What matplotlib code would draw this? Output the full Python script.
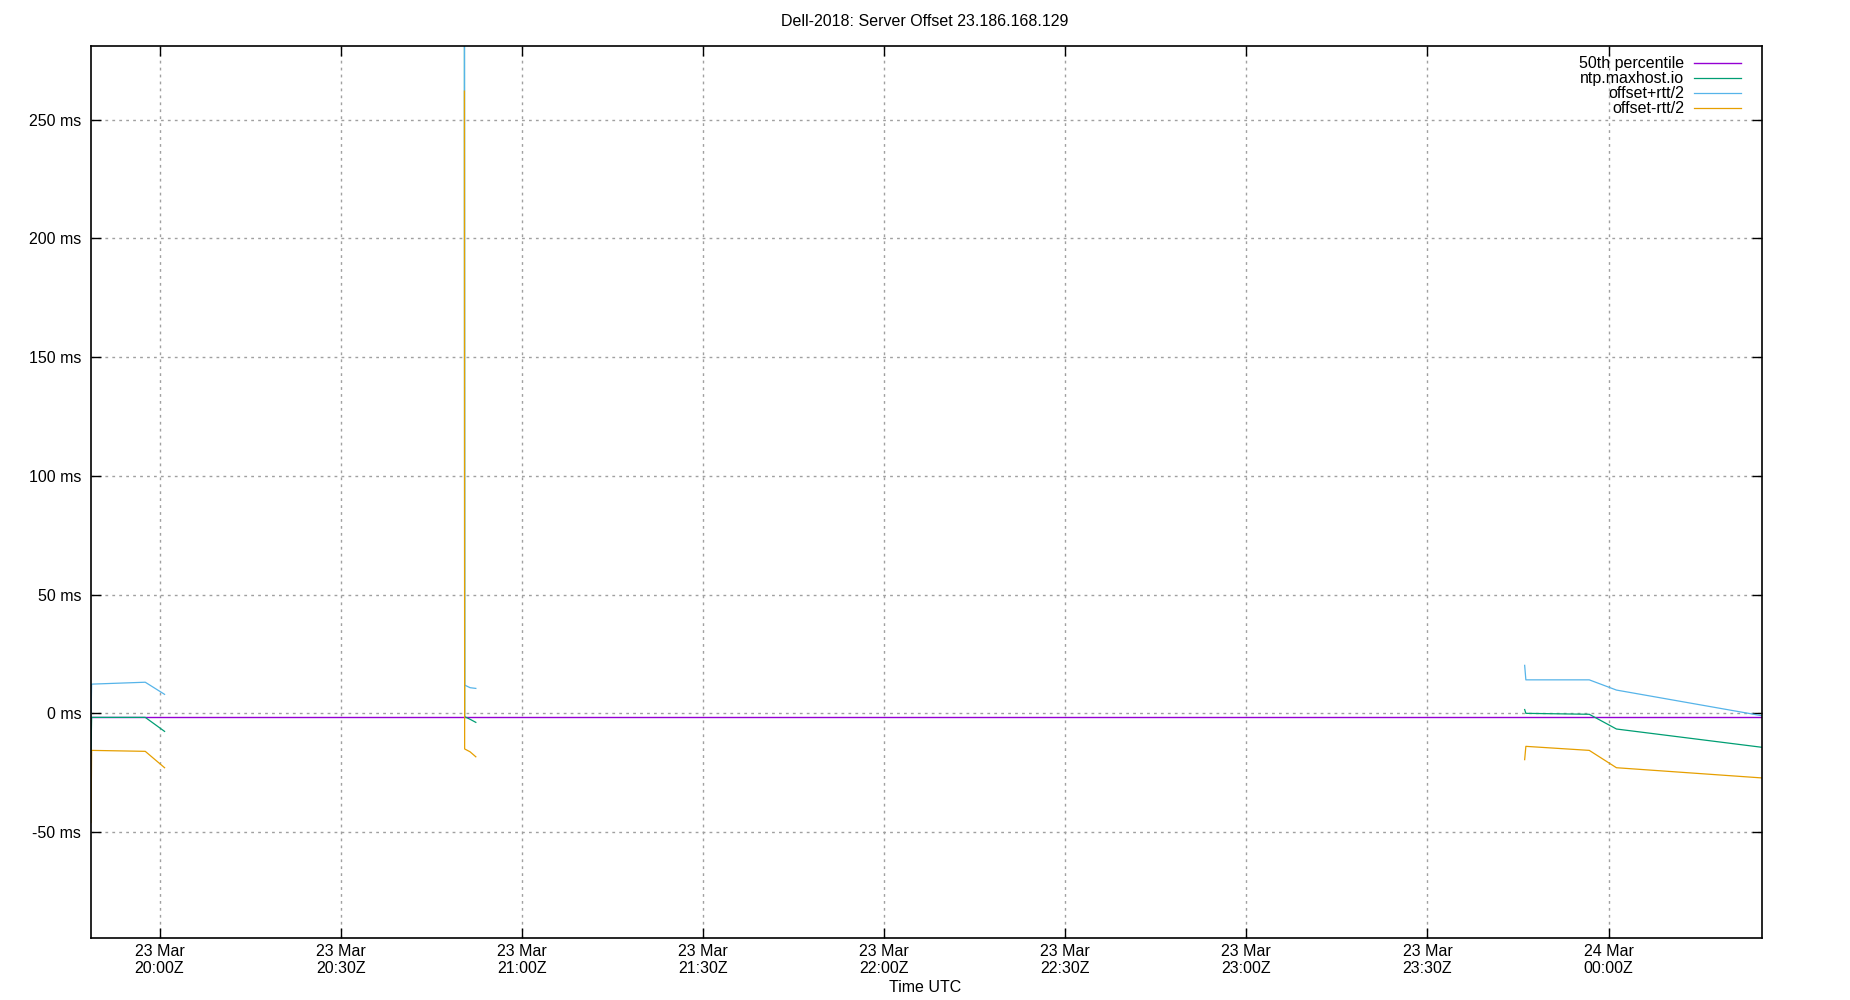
import numpy as np
import pandas as pd
import matplotlib
matplotlib.use("Agg")
import matplotlib.pyplot as plt
import matplotlib.dates as mdates
from matplotlib.ticker import FuncFormatter

plt.rcParams['font.family'] = ['Liberation Sans', 'DejaVu Sans']

# sample times (None rows break the line between runs of data)
times = [
    "2025-03-23 19:48:39", "2025-03-23 19:48:45", "2025-03-23 19:57:38", "2025-03-23 20:00:50",
    None,
    "2025-03-23 20:50:30", "2025-03-23 20:50:32", "2025-03-23 20:51:26", "2025-03-23 20:52:23",
    None,
    "2025-03-23 23:46:06", "2025-03-23 23:46:18", "2025-03-23 23:56:48", "2025-03-24 00:01:18",
    "2025-03-24 00:25:24",
]
offset_ms = [-15.6, -1.7, -1.7, -7.6, np.nan,
             296.0, -1.4, -2.5, -3.8, np.nan,
             1.6, 0.0, -0.4, -6.6, -14.3]
plus_rtt_ms = [-1.7, 12.3, 13.1, 8.0, np.nan,
               330.0, 11.9, 10.8, 10.5, np.nan,
               20.2, 14.1, 14.1, 9.8, -1.0]
minus_rtt_ms = [-46.0, -15.6, -16.0, -22.9, np.nan,
                262.0, -15.0, -16.2, -18.3, np.nan,
                -19.5, -13.9, -15.6, -22.9, -27.2]

median_ms = -1.7
x_start = "2025-03-23 19:48:39"
x_end = "2025-03-24 00:25:24"

t = pd.to_datetime(pd.Series(times))

fs = 11.5
fig = plt.figure(figsize=(18.5, 10), dpi=100)
ax = fig.add_axes([0.0492, 0.062, 0.9032, 0.892])

t0 = pd.Timestamp(x_start)
t1 = pd.Timestamp(x_end)

ax.plot([t0, t1], [median_ms, median_ms], color='#9400d3', lw=1.0, label='50th percentile')
ax.plot(t, offset_ms, color='#009e73', lw=0.9, label='ntp.maxhost.io')
ax.plot(t, plus_rtt_ms, color='#56b4e9', lw=0.9, label='offset+rtt/2')
ax.plot(t, minus_rtt_ms, color='#e69f00', lw=0.9, label='offset-rtt/2')

ax.set_xlim(t0, t1)
ax.set_ylim(-94.6, 281)

ax.set_yticks(np.arange(-50, 251, 50))
ax.yaxis.set_major_formatter(FuncFormatter(lambda v, p: f"{v:.0f} ms"))
ax.xaxis.set_major_locator(mdates.MinuteLocator(byminute=[0, 30]))
ax.xaxis.set_major_formatter(mdates.DateFormatter("%d %b\n%H:%MZ"))

ax.tick_params(direction='in', length=7, width=1, top=True, right=True,
               labelsize=fs, pad=7)
ax.tick_params(axis='x', pad=4)
ax.grid(True, color='#a0a0a0', linestyle=(0, (2, 3)), linewidth=1)
for s in ax.spines.values():
    s.set_linewidth(1.2)

leg = ax.legend(loc='upper right', bbox_to_anchor=(0.9877, 0.9885),
                frameon=False, markerfirst=False,
                fontsize=fs, handlelength=2.94, labelspacing=0.0,
                borderaxespad=0, borderpad=0, handletextpad=0.62)
for txt in leg.get_texts():
    txt.set_ha('right')

fig.text(0.5, 1 - 22 / 1000, "Dell-2018: Server Offset 23.186.168.129",
         ha='center', va='center', fontsize=fs)
fig.text(0.5, 1 - 988 / 1000, "Time UTC", ha='center', va='center', fontsize=fs)

fig.savefig("out.png", dpi=100)
